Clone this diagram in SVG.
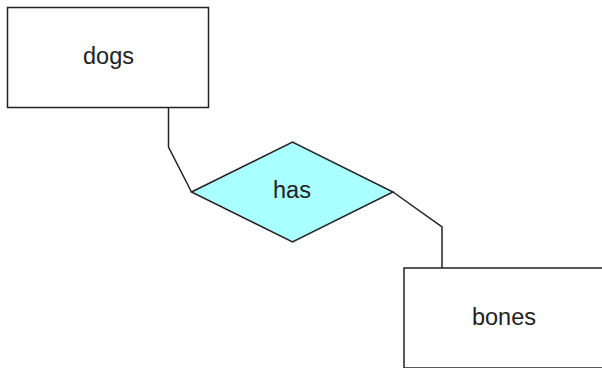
<svg xmlns="http://www.w3.org/2000/svg" width="602" height="368" viewBox="0 0 602 368">
<style>
.ent{fill:#ffffff;stroke:#222222;stroke-width:1.5}
.rel{fill:#aaffff;stroke:#222222;stroke-width:1.5}
.lbl{font-family:"Liberation Sans",Arial,sans-serif;font-size:23.5px;fill:#222222;text-anchor:middle}
.conn{fill:none;stroke:#222222;stroke-width:1.5}
</style>
<rect width="602" height="368" fill="#ffffff"/>
<g id="connectors">
<polyline class="conn" points="168.5,108 168.5,147 191.5,192"/>
<polyline class="conn" points="393,192 442,227 442,268"/>
</g>
<g id="dogs">
<rect class="ent" x="7.5" y="7.5" width="201" height="100"/>
<text class="lbl" x="108.5" y="63.5">dogs</text>
</g>
<g id="has">
<polygon class="rel" points="191.5,192 292.5,142 393,192 292.5,242"/>
<text class="lbl" x="292" y="198">has</text>
</g>
<g id="bones">
<rect class="ent" x="404" y="268" width="201" height="100"/>
<text class="lbl" x="504" y="325">bones</text>
</g>
</svg>
